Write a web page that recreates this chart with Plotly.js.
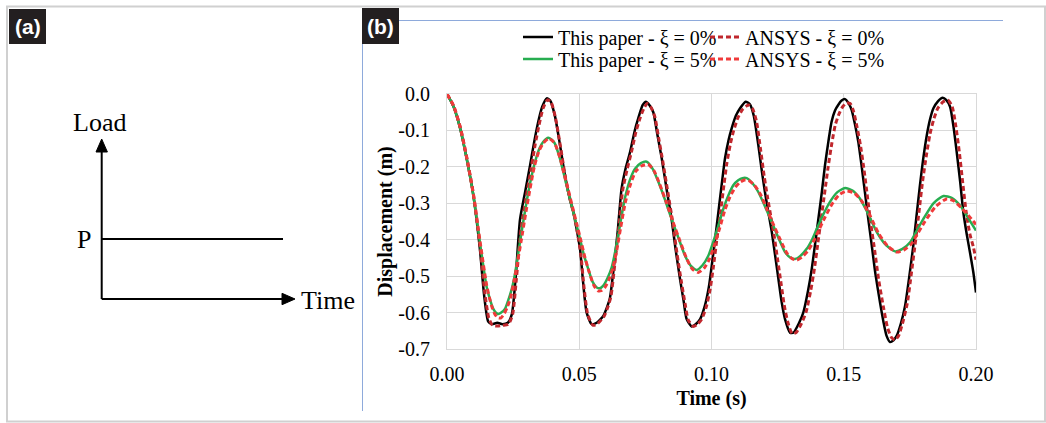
<!DOCTYPE html>
<html>
<head>
<meta charset="utf-8">
<script src="https://cdn.plot.ly/plotly-3.0.1.min.js"></script>
<style>html,body{margin:0;padding:0;background:#fff;}#chart{width:1046px;height:423px;}</style>
</head>
<body>
<div id="chart"></div>
<script>
// ---------- data ----------
const seriesNames = ["This paper - ξ = 0%", "ANSYS - ξ = 0%", "This paper - ξ = 5%", "ANSYS - ξ = 5%"];

const tPaper0 = [0,0.0025,0.005,0.0075,0.010,0.0125,0.0140,0.0156,0.0170,0.0190,0.0210,0.0230,0.0245,0.0260,0.0276,0.0295,0.0314,0.0330,0.0345,0.0360,0.0377,0.0390,0.0408,0.0425,0.0446,0.0465,0.0478,0.0490,0.0503,0.0515,0.0528,0.0547,0.0566,0.0591,0.0605,0.0616,0.0630,0.0645,0.0660,0.0675,0.0692,0.0710,0.0723,0.0740,0.0752,0.0765,0.0780,0.0795,0.0812,0.0830,0.0849,0.0865,0.0881,0.0895,0.0906,0.0925,0.0940,0.0957,0.0975,0.0990,0.1001,0.1015,0.1026,0.1040,0.1051,0.1065,0.1076,0.1092,0.1108,0.1129,0.1145,0.1160,0.1177,0.1190,0.1202,0.1215,0.1228,0.1240,0.1253,0.1265,0.1278,0.1297,0.1310,0.1330,0.1347,0.1365,0.1379,0.1392,0.1404,0.1417,0.1429,0.1442,0.1454,0.1467,0.1479,0.1492,0.1505,0.1518,0.1530,0.1543,0.1555,0.1568,0.1580,0.1593,0.1606,0.1620,0.1637,0.1650,0.1662,0.1675,0.1688,0.1700,0.1716,0.1732,0.1748,0.1763,0.1775,0.1788,0.1800,0.1814,0.1826,0.1839,0.1856,0.1874,0.1888,0.1902,0.1915,0.1927,0.1940,0.1952,0.1965,0.1977,0.1990,0.2000];
const dPaper0 = [0,-0.035,-0.095,-0.18,-0.28,-0.43,-0.55,-0.625,-0.632,-0.628,-0.632,-0.628,-0.605,-0.50,-0.345,-0.27,-0.196,-0.13,-0.076,-0.035,-0.012,-0.018,-0.06,-0.13,-0.223,-0.29,-0.325,-0.37,-0.425,-0.52,-0.60,-0.632,-0.628,-0.609,-0.585,-0.56,-0.48,-0.38,-0.26,-0.205,-0.16,-0.10,-0.067,-0.03,-0.021,-0.03,-0.05,-0.11,-0.177,-0.26,-0.343,-0.43,-0.508,-0.57,-0.618,-0.638,-0.632,-0.618,-0.581,-0.53,-0.471,-0.39,-0.324,-0.24,-0.177,-0.125,-0.095,-0.06,-0.039,-0.021,-0.028,-0.06,-0.14,-0.21,-0.269,-0.325,-0.379,-0.44,-0.508,-0.57,-0.618,-0.655,-0.655,-0.63,-0.60,-0.54,-0.48,-0.41,-0.343,-0.27,-0.196,-0.13,-0.076,-0.045,-0.03,-0.018,-0.014,-0.025,-0.044,-0.085,-0.131,-0.2,-0.269,-0.345,-0.416,-0.495,-0.572,-0.625,-0.664,-0.681,-0.676,-0.664,-0.63,-0.581,-0.50,-0.416,-0.335,-0.251,-0.18,-0.113,-0.07,-0.039,-0.02,-0.01,-0.017,-0.035,-0.09,-0.159,-0.24,-0.324,-0.385,-0.434,-0.49,-0.545];

const tAnsys0 = [0,0.0025,0.005,0.0075,0.010,0.0125,0.0142,0.0158,0.0172,0.0190,0.0210,0.0232,0.0248,0.0262,0.0280,0.0300,0.0318,0.0333,0.0348,0.0363,0.0380,0.0393,0.0410,0.0428,0.0448,0.0467,0.0480,0.0493,0.0506,0.0518,0.0532,0.0552,0.0570,0.0594,0.0608,0.0620,0.0634,0.0649,0.0664,0.0680,0.0697,0.0714,0.0728,0.0744,0.0757,0.0770,0.0785,0.0800,0.0817,0.0835,0.0854,0.0870,0.0886,0.0900,0.0912,0.0931,0.0947,0.0963,0.0980,0.0995,0.1007,0.1021,0.1033,0.1047,0.1058,0.1072,0.1084,0.1100,0.1118,0.1140,0.1155,0.1170,0.1186,0.1199,0.1211,0.1224,0.1237,0.1250,0.1263,0.1275,0.1288,0.1305,0.1320,0.1340,0.1357,0.1375,0.1389,0.1402,0.1414,0.1428,0.1441,0.1455,0.1468,0.1482,0.1496,0.1510,0.1524,0.1536,0.1550,0.1563,0.1577,0.1590,0.1603,0.1617,0.1632,0.1650,0.1665,0.1680,0.1693,0.1707,0.1722,0.1740,0.1756,0.1772,0.1785,0.1798,0.1812,0.1826,0.1840,0.1855,0.1875,0.1894,0.1910,0.1924,0.1937,0.1950,0.1963,0.1977,0.1990,0.2000];
const dAnsys0 = [0,-0.033,-0.09,-0.175,-0.275,-0.42,-0.54,-0.615,-0.635,-0.637,-0.635,-0.632,-0.605,-0.51,-0.37,-0.28,-0.205,-0.14,-0.085,-0.04,-0.016,-0.022,-0.065,-0.14,-0.23,-0.295,-0.33,-0.38,-0.44,-0.53,-0.605,-0.635,-0.63,-0.61,-0.585,-0.555,-0.47,-0.37,-0.265,-0.21,-0.16,-0.105,-0.07,-0.04,-0.026,-0.035,-0.06,-0.12,-0.19,-0.27,-0.355,-0.44,-0.515,-0.575,-0.62,-0.638,-0.632,-0.618,-0.585,-0.535,-0.475,-0.395,-0.33,-0.25,-0.19,-0.135,-0.1,-0.065,-0.042,-0.03,-0.04,-0.075,-0.155,-0.225,-0.28,-0.335,-0.39,-0.455,-0.52,-0.58,-0.625,-0.658,-0.655,-0.63,-0.60,-0.54,-0.48,-0.41,-0.345,-0.27,-0.2,-0.135,-0.085,-0.055,-0.035,-0.025,-0.026,-0.045,-0.09,-0.14,-0.21,-0.285,-0.36,-0.43,-0.51,-0.585,-0.64,-0.668,-0.675,-0.664,-0.63,-0.575,-0.49,-0.4,-0.32,-0.24,-0.17,-0.11,-0.07,-0.04,-0.022,-0.017,-0.035,-0.09,-0.16,-0.245,-0.325,-0.385,-0.42,-0.455];

const tPaper5 = [0,0.0025,0.005,0.0075,0.010,0.0125,0.015,0.0165,0.0175,0.0185,0.0194,0.0205,0.0219,0.0232,0.0245,0.0258,0.027,0.0285,0.0301,0.0317,0.0333,0.0349,0.0364,0.0383,0.0395,0.0408,0.0424,0.044,0.0455,0.0471,0.0487,0.0503,0.0518,0.0534,0.055,0.0566,0.0578,0.0591,0.0607,0.0623,0.0638,0.0654,0.0673,0.0692,0.0711,0.0733,0.0755,0.0777,0.0799,0.0824,0.0849,0.0875,0.0900,0.0922,0.0944,0.0966,0.0988,0.1007,0.1026,0.1045,0.1064,0.1083,0.1101,0.1117,0.1133,0.1155,0.1177,0.1203,0.1228,0.1253,0.1278,0.1300,0.1316,0.1335,0.136,0.138,0.1398,0.1423,0.1448,0.1475,0.1505,0.1533,0.1561,0.1593,0.1625,0.1660,0.1694,0.1722,0.1751,0.1776,0.1801,0.1839,0.1877,0.1908,0.194,0.197,0.2000];
const dPaper5 = [0,-0.035,-0.095,-0.18,-0.28,-0.41,-0.53,-0.57,-0.59,-0.60,-0.604,-0.6,-0.59,-0.565,-0.535,-0.49,-0.434,-0.365,-0.296,-0.235,-0.186,-0.15,-0.131,-0.12,-0.125,-0.136,-0.17,-0.214,-0.26,-0.306,-0.352,-0.398,-0.443,-0.48,-0.515,-0.531,-0.533,-0.526,-0.505,-0.475,-0.425,-0.36,-0.285,-0.235,-0.205,-0.19,-0.186,-0.205,-0.241,-0.29,-0.343,-0.395,-0.444,-0.472,-0.483,-0.47,-0.444,-0.405,-0.361,-0.315,-0.278,-0.25,-0.237,-0.231,-0.231,-0.245,-0.269,-0.31,-0.352,-0.395,-0.434,-0.45,-0.453,-0.445,-0.425,-0.40,-0.37,-0.33,-0.296,-0.27,-0.258,-0.265,-0.287,-0.33,-0.379,-0.415,-0.432,-0.425,-0.407,-0.375,-0.343,-0.3,-0.28,-0.285,-0.306,-0.34,-0.375];

const tAnsys5 = [0,0.0025,0.005,0.0075,0.010,0.0125,0.015,0.0168,0.018,0.0192,0.0203,0.0215,0.0228,0.024,0.0253,0.0267,0.028,0.0297,0.0314,0.033,0.0347,0.0364,0.0385,0.0398,0.041,0.0427,0.0443,0.0459,0.0475,0.0491,0.0507,0.0522,0.0538,0.0555,0.057,0.0583,0.0596,0.0612,0.0627,0.0642,0.0657,0.0675,0.0695,0.0714,0.0737,0.0760,0.0782,0.0804,0.0829,0.0854,0.0880,0.0905,0.0927,0.0950,0.0972,0.0993,0.1012,0.1031,0.1050,0.1070,0.1090,0.1108,0.1125,0.1140,0.1162,0.1185,0.1210,0.1235,0.1260,0.1285,0.1305,0.1322,0.1342,0.1367,0.1387,0.1405,0.1430,0.1455,0.1482,0.1511,0.1540,0.1568,0.1600,0.1632,0.1667,0.1700,0.1728,0.1757,0.1782,0.1807,0.1846,0.1889,0.1915,0.1945,0.1973,0.2000];
const dAnsys5 = [0,-0.033,-0.092,-0.177,-0.277,-0.405,-0.525,-0.58,-0.603,-0.614,-0.615,-0.605,-0.585,-0.56,-0.515,-0.46,-0.405,-0.33,-0.26,-0.2,-0.158,-0.135,-0.122,-0.128,-0.14,-0.175,-0.22,-0.265,-0.312,-0.358,-0.405,-0.45,-0.49,-0.525,-0.54,-0.54,-0.532,-0.51,-0.478,-0.428,-0.365,-0.295,-0.245,-0.212,-0.197,-0.193,-0.21,-0.247,-0.297,-0.35,-0.402,-0.45,-0.48,-0.49,-0.478,-0.452,-0.412,-0.368,-0.32,-0.282,-0.256,-0.242,-0.236,-0.237,-0.25,-0.275,-0.317,-0.36,-0.4,-0.437,-0.452,-0.456,-0.448,-0.428,-0.403,-0.375,-0.337,-0.303,-0.277,-0.266,-0.272,-0.294,-0.335,-0.383,-0.418,-0.434,-0.428,-0.41,-0.38,-0.35,-0.31,-0.288,-0.293,-0.313,-0.335,-0.358];

const xTickVals = [0, 0.05, 0.10, 0.15, 0.20];
const xTickText = ["0.00", "0.05", "0.10", "0.15", "0.20"];
const yTickVals = [0, -0.1, -0.2, -0.3, -0.4, -0.5, -0.6, -0.7];
const yTickText = ["0.0", "-0.1", "-0.2", "-0.3", "-0.4", "-0.5", "-0.6", "-0.7"];

// ---------- layout helpers (pixel -> paper for decorations) ----------
const W = 1046, H = 423;
const PL = 447, PR = 976, PT = 94, PB = 349;
const px = v => (v - PL) / (PR - PL);
const py = v => (PB - v) / (PB - PT);

const serif = "Liberation Serif, Times New Roman, serif";
const sans = "Liberation Sans, Arial, sans-serif";

const traces = [
  {x: tPaper0, y: dPaper0, name: seriesNames[0], mode: "lines", line: {color: "#000000", width: 2.5, shape: "spline", smoothing: 0.6}, legend: "legend"},
  {x: tAnsys0, y: dAnsys0, name: seriesNames[1], mode: "lines", line: {color: "#c0272d", width: 3, dash: "5px,3px", shape: "spline", smoothing: 0.6}, legend: "legend"},
  {x: tPaper5, y: dPaper5, name: seriesNames[2], mode: "lines", line: {color: "#27ad50", width: 2.5, shape: "spline", smoothing: 0.6}, legend: "legend2"},
  {x: tAnsys5, y: dAnsys5, name: seriesNames[3], mode: "lines", line: {color: "#f03a3a", width: 3, dash: "5px,3px", shape: "spline", smoothing: 0.6}, legend: "legend2"}
];

const legendCommon = {
  orientation: "h", xanchor: "left", yanchor: "middle",
  bgcolor: "rgba(0,0,0,0)", borderwidth: 0,
  font: {family: serif, size: 20, color: "#000"},
  entrywidth: 142, entrywidthmode: "pixels", itemclick: false
};

const shapes = [
  // outer frame
  {type: "rect", xref: "paper", yref: "paper", x0: px(7), x1: px(1045), y0: py(6.5), y1: py(421.5), line: {color: "#d0d0d0", width: 2}, layer: "below"},
  // blue frame of panel (b)
  {type: "line", xref: "paper", yref: "paper", x0: px(362.5), x1: px(362.5), y0: py(44), y1: py(411), line: {color: "#8eaadb", width: 1}},
  {type: "line", xref: "paper", yref: "paper", x0: px(399), x1: px(1003), y0: py(20.5), y1: py(20.5), line: {color: "#8eaadb", width: 1}},
  // label boxes
  {type: "rect", xref: "paper", yref: "paper", x0: px(9), x1: px(46), y0: py(9), y1: py(44), fillcolor: "#231f20", line: {width: 0}},
  {type: "rect", xref: "paper", yref: "paper", x0: px(362), x1: px(399), y0: py(8), y1: py(44), fillcolor: "#231f20", line: {width: 0}},
  // panel (a) sketch
  {type: "line", xref: "paper", yref: "paper", x0: px(101.7), x1: px(101.7), y0: py(299), y1: py(150), line: {color: "#000", width: 2}},
  {type: "line", xref: "paper", yref: "paper", x0: px(101.7), x1: px(283), y0: py(299), y1: py(299), line: {color: "#000", width: 2}},
  {type: "line", xref: "paper", yref: "paper", x0: px(101.7), x1: px(283), y0: py(239), y1: py(239), line: {color: "#000", width: 2}},
  {type: "path", xref: "paper", yref: "paper",
   path: `M ${px(101.7)} ${py(139)} L ${px(96)} ${py(152)} L ${px(107.4)} ${py(152)} Z`, fillcolor: "#000", line: {color: "#000", width: 1}},
  {type: "path", xref: "paper", yref: "paper",
   path: `M ${px(295)} ${py(299)} L ${px(282)} ${py(293.3)} L ${px(282)} ${py(304.7)} Z`, fillcolor: "#000", line: {color: "#000", width: 1}}
];

const ann = (x, y, text, font, xanchor) => ({
  xref: "paper", yref: "paper", x: px(x), y: py(y), text: text, showarrow: false,
  xanchor: xanchor || "center", yanchor: "middle", font: font
});

const annotations = [
  ann(27.5, 26.5, "<b>(a)</b>", {family: sans, size: 21, color: "#fff"}),
  ann(380.5, 26, "<b>(b)</b>", {family: sans, size: 21, color: "#fff"}),
  ann(99, 122, "Load", {family: serif, size: 26, color: "#000"}),
  ann(84, 239, "P", {family: serif, size: 26, color: "#000"}),
  ann(299, 300, "Time", {family: serif, size: 26, color: "#000"}, "left")
];

const layout = {
  width: W, height: H,
  margin: {l: PL, r: W - PR, t: PT, b: H - PB, pad: 0},
  paper_bgcolor: "#fff", plot_bgcolor: "#fff",
  showlegend: true,
  legend: Object.assign({}, legendCommon, {x: px(518), y: py(37)}),
  legend2: Object.assign({}, legendCommon, {x: px(518), y: py(59)}),
  xaxis: {
    range: [0, 0.2], tickvals: xTickVals, ticktext: xTickText,
    showgrid: true, gridcolor: "#d9d9d9", gridwidth: 1,
    showline: true, linecolor: "#d9d9d9", linewidth: 1, mirror: true,
    zeroline: false, ticks: "", ticklabelstandoff: 7,
    tickfont: {family: serif, size: 20, color: "#000"},
    title: {text: "<b>Time (s)</b>", font: {family: serif, size: 20, color: "#000"}, standoff: 6},
    automargin: false, fixedrange: true
  },
  yaxis: {
    range: [-0.7, 0], tickvals: yTickVals, ticktext: yTickText,
    showgrid: true, gridcolor: "#d9d9d9", gridwidth: 1,
    showline: true, linecolor: "#d9d9d9", linewidth: 1, mirror: true,
    zeroline: false, ticks: "", ticklabelstandoff: 12,
    tickfont: {family: serif, size: 20, color: "#000"},
    title: {text: "<b>Displacement (m)</b>", font: {family: serif, size: 20, color: "#000"}, standoff: 0},
    automargin: false, fixedrange: true
  },
  shapes: shapes,
  annotations: annotations
};

Plotly.newPlot("chart", traces, layout, {staticPlot: true, displayModeBar: false});
</script>
</body>
</html>
